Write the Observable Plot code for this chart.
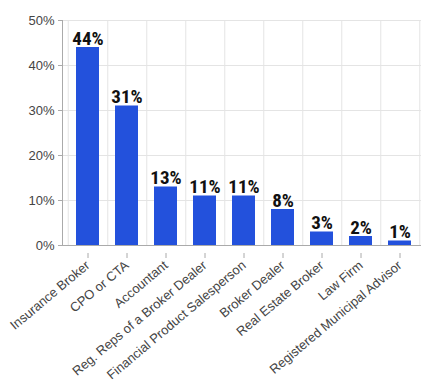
<!DOCTYPE html>
<html>
<head>
<meta charset="utf-8">
<script src="https://cdn.jsdelivr.net/npm/d3@7"></script>
<script src="https://cdn.jsdelivr.net/npm/@observablehq/plot@0.6"></script>
<style>
  html, body { margin: 0; padding: 0; background: #fff; }
  #chart { width: 427px; height: 388px; }
</style>
</head>
<body>
<div id="chart"></div>
<script>
const categories = [
  "Insurance Broker",
  "CPO or CTA",
  "Accountant",
  "Reg. Reps of a Broker Dealer",
  "Financial Product Salesperson",
  "Broker Dealer",
  "Real Estate Broker",
  "Law Firm",
  "Registered Municipal Advisor"
];
const values = [44, 31, 13, 11, 11, 8, 3, 2, 1];
const yTicks = [0, 10, 20, 30, 40, 50];

const data = categories.map((c, i) => ({category: c, value: values[i]}));

// pick a condensed bold face if one is installed
function hasFont(name) {
  const ctx = document.createElement("canvas").getContext("2d");
  const s = "44% 31% 13% mmmWWiil";
  ctx.font = "bold 40px monospace";
  const a = ctx.measureText(s).width;
  ctx.font = `bold 40px '${name}', monospace`;
  const b = ctx.measureText(s).width;
  return a !== b;
}
const condensed = ["Liberation Sans Narrow", "Roboto Condensed", "DejaVu Sans Condensed", "Open Sans Condensed"].find(hasFont);
const valueFont = condensed ? `'${condensed}', sans-serif` : "'Liberation Sans', Arial, sans-serif";
const valueSize = condensed ? 19 : 15;

const W = 427, H = 388;
const mL = 62, mR = 6, inset = 3;
const step = (W - mL - mR - inset) / categories.length;

const chart = Plot.plot({
  width: W,
  height: H,
  marginTop: 20,
  marginLeft: mL,
  marginRight: mR,
  marginBottom: 143,
  style: {fontFamily: "'Liberation Sans', Arial, sans-serif", fontSize: "13px", color: "#444"},
  x: {domain: categories, paddingInner: 0.42, paddingOuter: 0.21, insetLeft: inset, label: null},
  y: {domain: [0, 50], ticks: yTicks, label: null},
  marks: [
    Plot.gridY(yTicks, {stroke: "#e4e4e4", strokeOpacity: 1}),
    Plot.ruleX(categories, {x: d => d, y1: 0, y2: 50, dx: step / 2, stroke: "#e4e4e4"}),
    Plot.ruleX([categories[0]], {x: d => d, y1: 0, y2: 50, dx: -step / 2, stroke: "#e4e4e4"}),
    Plot.barY(data, {x: "category", y: "value", fill: "#2351DC"}),
    Plot.ruleY([0], {stroke: "#aaa"}),
    Plot.frame({anchor: "left", stroke: "#aaa"}),
    Plot.axisY({ticks: yTicks, tickFormat: d => d + "%", tickSize: 4, tickPadding: 4, stroke: "#aaa", fill: "#444", fontSize: 13, label: null}),
    Plot.axisX({tickSize: 5, dy: 8, text: null, stroke: "#aaa", label: null}),
    Plot.axisX({tickSize: 0, tickPadding: 18, dx: 0, tickRotate: -40, fill: "#444", fontSize: 13, label: null}),
    Plot.text(data, {
      x: "category", y: "value", text: d => d.value + "%",
      lineAnchor: "bottom", dy: -3,
      fontFamily: valueFont,
      fontWeight: "bold", fontSize: valueSize, fill: "#111"
    })
  ]
});
document.getElementById("chart").appendChild(chart);
</script>
</body>
</html>
